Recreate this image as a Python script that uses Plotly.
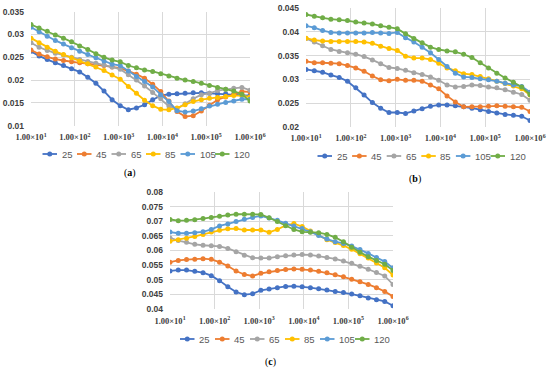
import plotly.graph_objects as go

freq = [10, 15.32, 23.47, 35.94, 55.05, 84.33, 129.2, 197.9, 303.1, 464.2, 711.1,
        1089, 1668, 2555, 3914, 5995, 9183, 14067, 21544, 33000, 50551, 77426,
        118600, 181680, 278260, 426250, 652930, 1000000]

series_names = ["25", "45", "65", "85", "105", "120"]
colors = ["#4472C4", "#ED7D31", "#A5A5A5", "#FFC000", "#5B9BD5", "#70AD47"]

# (a)
a_25 = [0.0263, 0.0253, 0.0245, 0.0238, 0.0232, 0.0225, 0.0218, 0.0206, 0.0193, 0.0176, 0.0157, 0.0144, 0.0135, 0.0139,
        0.0146, 0.0157, 0.0166, 0.0169, 0.0170, 0.0171, 0.0172, 0.0172, 0.0171, 0.0170, 0.0170, 0.0169, 0.0168, 0.0166]
a_45 = [0.0266, 0.0257, 0.0251, 0.0246, 0.0243, 0.0240, 0.0238, 0.0236, 0.0234, 0.0232, 0.0229, 0.0226, 0.0220, 0.0213,
        0.0204, 0.0191, 0.0175, 0.0154, 0.0131, 0.0120, 0.0122, 0.0132, 0.0145, 0.0157, 0.0163, 0.0168, 0.0175, 0.0174]
a_65 = [0.0282, 0.0272, 0.0265, 0.0259, 0.0255, 0.0250, 0.0245, 0.0241, 0.0237, 0.0233, 0.0229, 0.0224, 0.0212, 0.0200,
        0.0187, 0.0173, 0.0159, 0.0143, 0.0137, 0.0148, 0.0159, 0.0168, 0.0171, 0.0177, 0.0180, 0.0182, 0.0184, 0.0178]
a_85 = [0.0292, 0.0282, 0.0272, 0.0263, 0.0256, 0.0249, 0.0242, 0.0236, 0.0229, 0.0221, 0.0211, 0.0202, 0.0186, 0.0171,
        0.0156, 0.0144, 0.0136, 0.0135, 0.0139, 0.0146, 0.0153, 0.0157, 0.0160, 0.0162, 0.0164, 0.0166, 0.0166, 0.0163]
a_105 = [0.0316, 0.0306, 0.0296, 0.0287, 0.0279, 0.0271, 0.0263, 0.0256, 0.0249, 0.0242, 0.0235, 0.0232, 0.0220, 0.0208,
         0.0197, 0.0185, 0.0168, 0.0153, 0.0133, 0.0130, 0.0132, 0.0137, 0.0143, 0.0147, 0.0151, 0.0154, 0.0158, 0.0158]
a_120 = [0.0322, 0.0314, 0.0307, 0.0299, 0.0292, 0.0284, 0.0275, 0.0267, 0.0258, 0.0250, 0.0244, 0.0240, 0.0232, 0.0227,
         0.0222, 0.0219, 0.0214, 0.0209, 0.0204, 0.0200, 0.0197, 0.0193, 0.0188, 0.0184, 0.0180, 0.0176, 0.0169, 0.0154]

# (b)
b_25 = [0.0321, 0.0318, 0.0315, 0.0309, 0.0304, 0.0296, 0.0282, 0.0267, 0.0251, 0.0239, 0.0230, 0.0230, 0.0228, 0.0233,
        0.0238, 0.0243, 0.0246, 0.0246, 0.0244, 0.0242, 0.0239, 0.0236, 0.0232, 0.0229, 0.0226, 0.0224, 0.0222, 0.0213]
b_45 = [0.0338, 0.0335, 0.0335, 0.0334, 0.0333, 0.0329, 0.0324, 0.0317, 0.0307, 0.0299, 0.0297, 0.0300, 0.0298, 0.0298,
        0.0296, 0.0288, 0.0280, 0.0265, 0.0252, 0.0242, 0.0242, 0.0242, 0.0243, 0.0244, 0.0243, 0.0242, 0.0241, 0.0232]
b_65 = [0.0386, 0.0379, 0.0371, 0.0363, 0.0359, 0.0356, 0.0353, 0.0348, 0.0341, 0.0333, 0.0325, 0.0323, 0.0319, 0.0314,
        0.0310, 0.0305, 0.0298, 0.0288, 0.0284, 0.0285, 0.0288, 0.0287, 0.0284, 0.0282, 0.0278, 0.0273, 0.0268, 0.0256]
b_85 = [0.0387, 0.0383, 0.0381, 0.0380, 0.0380, 0.0380, 0.0380, 0.0379, 0.0376, 0.0370, 0.0365, 0.0361, 0.0349, 0.0345,
        0.0345, 0.0342, 0.0334, 0.0324, 0.0318, 0.0312, 0.0310, 0.0306, 0.0301, 0.0296, 0.0291, 0.0286, 0.0280, 0.0267]
b_105 = [0.0413, 0.0409, 0.0403, 0.0399, 0.0398, 0.0398, 0.0398, 0.0398, 0.0399, 0.0398, 0.0397, 0.0399, 0.0388, 0.0379,
         0.0368, 0.0356, 0.0342, 0.0327, 0.0313, 0.0305, 0.0304, 0.0301, 0.0299, 0.0296, 0.0292, 0.0288, 0.0285, 0.0273]
b_120 = [0.0437, 0.0433, 0.0430, 0.0427, 0.0426, 0.0424, 0.0421, 0.0419, 0.0417, 0.0413, 0.0410, 0.0407, 0.0396, 0.0386,
         0.0377, 0.0368, 0.0363, 0.0360, 0.0358, 0.0353, 0.0346, 0.0335, 0.0324, 0.0313, 0.0303, 0.0294, 0.0284, 0.0268]

# (c)
c_25 = [0.0530, 0.0533, 0.0533, 0.0529, 0.0524, 0.0514, 0.0497, 0.0476, 0.0458, 0.0449, 0.0452, 0.0464, 0.0468, 0.0473,
        0.0477, 0.0478, 0.0476, 0.0473, 0.0469, 0.0465, 0.0460, 0.0456, 0.0451, 0.0445, 0.0438, 0.0432, 0.0426, 0.0411]
c_45 = [0.0560, 0.0566, 0.0569, 0.0570, 0.0572, 0.0570, 0.0560, 0.0547, 0.0530, 0.0518, 0.0513, 0.0522, 0.0527, 0.0532,
        0.0535, 0.0537, 0.0536, 0.0533, 0.0529, 0.0524, 0.0517, 0.0510, 0.0502, 0.0493, 0.0484, 0.0473, 0.0460, 0.0443]
c_65 = [0.0643, 0.0634, 0.0628, 0.0621, 0.0618, 0.0616, 0.0614, 0.0607, 0.0596, 0.0584, 0.0575, 0.0574, 0.0574, 0.0579,
        0.0582, 0.0585, 0.0586, 0.0585, 0.0581, 0.0576, 0.0571, 0.0564, 0.0556, 0.0546, 0.0536, 0.0525, 0.0513, 0.0484]
c_85 = [0.0632, 0.0637, 0.0642, 0.0648, 0.0655, 0.0663, 0.0669, 0.0674, 0.0675, 0.0670, 0.0670, 0.0670, 0.0662, 0.0672,
        0.0686, 0.0692, 0.0682, 0.0667, 0.0653, 0.0637, 0.0627, 0.0617, 0.0604, 0.0589, 0.0574, 0.0557, 0.0541, 0.0516]
c_105 = [0.0663, 0.0659, 0.0659, 0.0661, 0.0664, 0.0672, 0.0684, 0.0691, 0.0699, 0.0707, 0.0713, 0.0718, 0.0711, 0.0703,
         0.0693, 0.0684, 0.0675, 0.0664, 0.0651, 0.0639, 0.0630, 0.0624, 0.0615, 0.0603, 0.0590, 0.0576, 0.0562, 0.0540]
c_120 = [0.0706, 0.0702, 0.0703, 0.0705, 0.0709, 0.0713, 0.0717, 0.0721, 0.0724, 0.0724, 0.0724, 0.0723, 0.0712, 0.0699,
         0.0685, 0.0672, 0.0664, 0.0662, 0.0661, 0.0655, 0.0645, 0.0630, 0.0611, 0.0594, 0.0579, 0.0566, 0.0553, 0.0532]

x_tickvals = [10, 100, 1000, 10000, 100000, 1000000]
x_ticktext = ["<b>1.00×10<sup>%d</sup></b>" % e for e in range(1, 7)]

a_yticks = [0.01, 0.015, 0.02, 0.025, 0.03, 0.035]
a_ytext = ["0.01", "0.015", "0.02", "0.025", "0.03", "0.035"]
b_yticks = [0.02, 0.025, 0.03, 0.035, 0.04, 0.045]
b_ytext = ["0.02", "0.025", "0.03", "0.035", "0.04", "0.045"]
c_yticks = [0.04, 0.045, 0.05, 0.055, 0.06, 0.065, 0.07, 0.075, 0.08]
c_ytext = ["0.04", "0.045", "0.05", "0.055", "0.06", "0.065", "0.07", "0.075", "0.08"]

W, H = 550, 369
def px_x(v):
    return v / W
def px_y(v):
    return 1 - v / H

# panel layout: data, axes, legend start x, legend y, legend spacing
panels = [
    dict(data=[a_25, a_45, a_65, a_85, a_105, a_120], xax="x", yax="y", lx=42.5, ly=154, step=34.5),
    dict(data=[b_25, b_45, b_65, b_85, b_105, b_120], xax="x2", yax="y2", lx=317.5, ly=156, step=34.6),
    dict(data=[c_25, c_45, c_65, c_85, c_105, c_120], xax="x3", yax="y3", lx=180, ly=339, step=35),
]

fig = go.Figure()
shapes = []
annotations = []
for p in panels:
    for i, (name, col, vals) in enumerate(zip(series_names, colors, p["data"])):
        fig.add_trace(go.Scatter(
            x=freq, y=vals, name=name, mode="lines+markers",
            line=dict(color=col, width=1.8),
            marker=dict(color=col, size=5, symbol="circle"),
            xaxis=p["xax"], yaxis=p["yax"], showlegend=False,
        ))
        # hand-built legend entry (line + marker + label)
        x0 = p["lx"] + i * p["step"]
        y0 = p["ly"]
        shapes.append(dict(type="line", xref="paper", yref="paper",
                           x0=px_x(x0), x1=px_x(x0 + 14.5), y0=px_y(y0), y1=px_y(y0),
                           line=dict(color=col, width=1.8)))
        r = 2.5
        shapes.append(dict(type="circle", xref="paper", yref="paper",
                           x0=px_x(x0 + 7.25 - r), x1=px_x(x0 + 7.25 + r),
                           y0=px_y(y0 + r), y1=px_y(y0 - r),
                           fillcolor=col, line=dict(color=col, width=0)))
        annotations.append(dict(text=name, x=px_x(x0 + 17), y=px_y(y0), xref="paper", yref="paper",
                                showarrow=False, xanchor="left", yanchor="middle",
                                font=dict(family="Liberation Sans", size=9.5, color="#595959")))

grid = "#D9D9D9"
tick_font = dict(family="Liberation Serif", size=8.5, color="#404040")
ytick_font = dict(family="Liberation Sans", size=8.5, color="#404040")

def xaxis(dom, anchor):
    return dict(type="log", range=[1, 6], domain=dom, anchor=anchor,
                tickvals=x_tickvals, ticktext=x_ticktext, tickfont=tick_font,
                showgrid=True, gridcolor=grid, gridwidth=1, showline=False,
                zeroline=False, ticks="", ticklabelstandoff=5, automargin=False)

def yaxis(dom, anchor, rng, tv, tt):
    return dict(range=rng, domain=dom, anchor=anchor, tickvals=tv,
                ticktext=["<b>%s</b>" % t for t in tt], tickfont=ytick_font,
                showgrid=True, gridcolor=grid, gridwidth=1, showline=False,
                zeroline=False, ticks="", ticklabelstandoff=6, automargin=False)

for txt, xx, yy in [("(<b>a</b>)", 130, 173), ("(<b>b</b>)", 415, 179), ("(<b>c</b>)", 270, 362)]:
    annotations.append(dict(text=txt, x=px_x(xx), y=px_y(yy), xref="paper", yref="paper",
                            showarrow=False, xanchor="center", yanchor="middle",
                            font=dict(family="Liberation Serif", size=10, color="#000000")))

fig.update_layout(
    width=W, height=H, margin=dict(l=0, r=0, t=0, b=0, autoexpand=False),
    paper_bgcolor="white", plot_bgcolor="white",
    xaxis=xaxis([px_x(31), px_x(250)], "y"),
    yaxis=yaxis([px_y(125.7), px_y(11.7)], "x", [0.01, 0.035], a_yticks, a_ytext),
    xaxis2=xaxis([px_x(306), px_x(530)], "y2"),
    yaxis2=yaxis([px_y(126.7), px_y(8.3)], "x2", [0.02, 0.045], b_yticks, b_ytext),
    xaxis3=xaxis([px_x(170), px_x(393)], "y3"),
    yaxis3=yaxis([px_y(309), px_y(192)], "x3", [0.04, 0.08], c_yticks, c_ytext),
    showlegend=False,
    shapes=shapes,
    annotations=annotations,
)

fig.write_html("out.html", config={"displayModeBar": False},
               post_script="document.body.style.margin='0';document.body.style.overflow='hidden';")
